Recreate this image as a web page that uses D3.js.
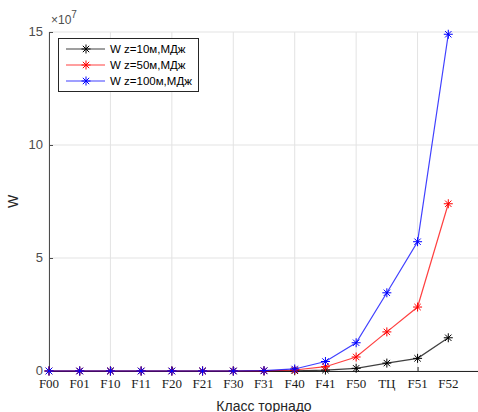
<!DOCTYPE html>
<html>
<head>
<meta charset="utf-8">
<script src="https://cdn.jsdelivr.net/npm/d3@7"></script>
<style>
  html, body { margin: 0; padding: 0; background: #fff; }
  svg { display: block; }
</style>
</head>
<body>
<svg id="chart" width="478" height="412"></svg>
<script>
// Tornado classes along the horizontal axis
const categories = ["F00","F01","F10","F11","F20","F21","F30","F31","F40","F41","F50","ТЦ","F51","F52"];
// Energy W in units of 1e7 MJ for three heights z
const w10  = [0, 0, 0, 0, 0, 0, 0, 0.002, 0.009, 0.04, 0.12, 0.35, 0.56, 1.47];
const w50  = [0, 0, 0, 0, 0, 0, 0, 0.008, 0.045, 0.19, 0.62, 1.73, 2.83, 7.40];
const w100 = [0, 0, 0, 0, 0, 0, 0, 0.015, 0.09, 0.42, 1.25, 3.46, 5.72, 14.90];
const yTicks = [0, 5, 10, 15];
const seriesNames = ["W z=10м,МДж", "W z=50м,МДж", "W z=100м,МДж"];
const seriesColors = ["#000000", "#ff0000", "#0000ff"];

const series = [w10, w50, w100].map((v, i) => ({ name: seriesNames[i], color: seriesColors[i], values: v }));

const svg = d3.select("#chart");
const plot = { left: 49, right: 479, top: 32, bottom: 371 };

const x = d3.scaleLinear().domain([1, 15]).range([plot.left, plot.right]);
const y = d3.scaleLinear().domain([0, 15]).range([plot.bottom, plot.top]);

// grid
const gridX = d3.range(1, 16, 2);
svg.append("g").selectAll("line").data(gridX).join("line")
  .attr("x1", d => x(d)).attr("x2", d => x(d))
  .attr("y1", plot.top).attr("y2", plot.bottom)
  .attr("stroke", "#e3e3e3").attr("stroke-width", 1);
svg.append("g").selectAll("line").data(yTicks).join("line")
  .attr("x1", plot.left).attr("x2", plot.right)
  .attr("y1", d => y(d)).attr("y2", d => y(d))
  .attr("stroke", "#e3e3e3").attr("stroke-width", 1);

// y axis
const yAxis = d3.axisLeft(y).tickValues(yTicks).tickSize(-4).tickSizeOuter(0).tickPadding(6);
const gy = svg.append("g").attr("transform", `translate(${plot.left},0)`).call(yAxis);
gy.select(".domain").attr("stroke", "#4d4d4d");
gy.selectAll(".tick line").attr("stroke", "#4d4d4d");
gy.selectAll(".tick text").attr("fill", "#4d4d4d").attr("dy", "0.28em")
  .style("font-family", "Liberation Sans, Arial, sans-serif").style("font-size", "13px");

// x axis line with ticks at grid positions
const xAxis = d3.axisBottom(x).tickValues(gridX).tickSize(-4).tickSizeOuter(0).tickFormat("");
const gx = svg.append("g").attr("transform", `translate(0,${plot.bottom})`).call(xAxis);
gx.select(".domain").attr("stroke", "#262626");
gx.selectAll(".tick line").attr("stroke", "#262626");

// category labels
svg.append("g").selectAll("text").data(categories).join("text")
  .attr("x", (d, i) => x(i + 1)).attr("y", plot.bottom + 17)
  .attr("text-anchor", "middle")
  .attr("fill", "#1a1a1a")
  .style("font-family", "Liberation Serif, Times New Roman, serif").style("font-size", "13px")
  .text(d => d);

// exponent label
const ex = svg.append("text").attr("x", 51).attr("y", 24)
  .attr("fill", "#4d4d4d").style("font-family", "Liberation Sans, Arial, sans-serif").style("font-size", "12px");
ex.append("tspan").text("×10");
ex.append("tspan").attr("dy", -6).style("font-size", "10px").text("7");

// axis titles
svg.append("text").attr("transform", `translate(18,${(plot.top + plot.bottom) / 2}) rotate(-90)`)
  .attr("text-anchor", "middle").attr("fill", "#262626")
  .style("font-family", "Liberation Sans, Arial, sans-serif").style("font-size", "14px").text("W");
svg.append("text").attr("x", (plot.left + plot.right) / 2).attr("y", 410.5)
  .attr("text-anchor", "middle").attr("fill", "#262626")
  .style("font-family", "Liberation Sans, Arial, sans-serif").style("font-size", "14px").text("Класс торнадо");

// asterisk marker
function star(g, cx, cy, color, r) {
  const a = r * 0.707;
  const segs = [[-r,0,r,0],[0,-r,0,r],[-a,-a,a,a],[-a,a,a,-a]];
  segs.forEach(s => g.append("line")
    .attr("x1", cx + s[0]).attr("y1", cy + s[1]).attr("x2", cx + s[2]).attr("y2", cy + s[3])
    .attr("stroke", color).attr("stroke-width", 1));
}

const line = d3.line().x((d, i) => x(i + 1)).y(d => y(d));
series.forEach(s => {
  const g = svg.append("g");
  g.append("path").datum(s.values).attr("d", line)
    .attr("fill", "none").attr("stroke", s.color).attr("stroke-width", 1.2).attr("stroke-opacity", 0.75);
  s.values.forEach((v, i) => star(g, x(i + 1), y(v), s.color, 4.5));
});

// legend
const lg = svg.append("g");
lg.append("rect").attr("x", 58.5).attr("y", 38.5).attr("width", 140).attr("height", 53)
  .attr("fill", "#fff").attr("stroke", "#262626").attr("stroke-width", 1);
series.forEach((s, i) => {
  const ly = 49 + i * 16;
  lg.append("line").attr("x1", 66).attr("x2", 105).attr("y1", ly).attr("y2", ly)
    .attr("stroke", s.color).attr("stroke-width", 1.2).attr("stroke-opacity", 0.75);
  star(lg, 86, ly, s.color, 4.5);
  lg.append("text").attr("x", 110).attr("y", ly + 4)
    .attr("fill", "#000").style("font-family", "Liberation Sans, Arial, sans-serif").style("font-size", "11.5px")
    .text(s.name);
});
</script>
</body>
</html>
